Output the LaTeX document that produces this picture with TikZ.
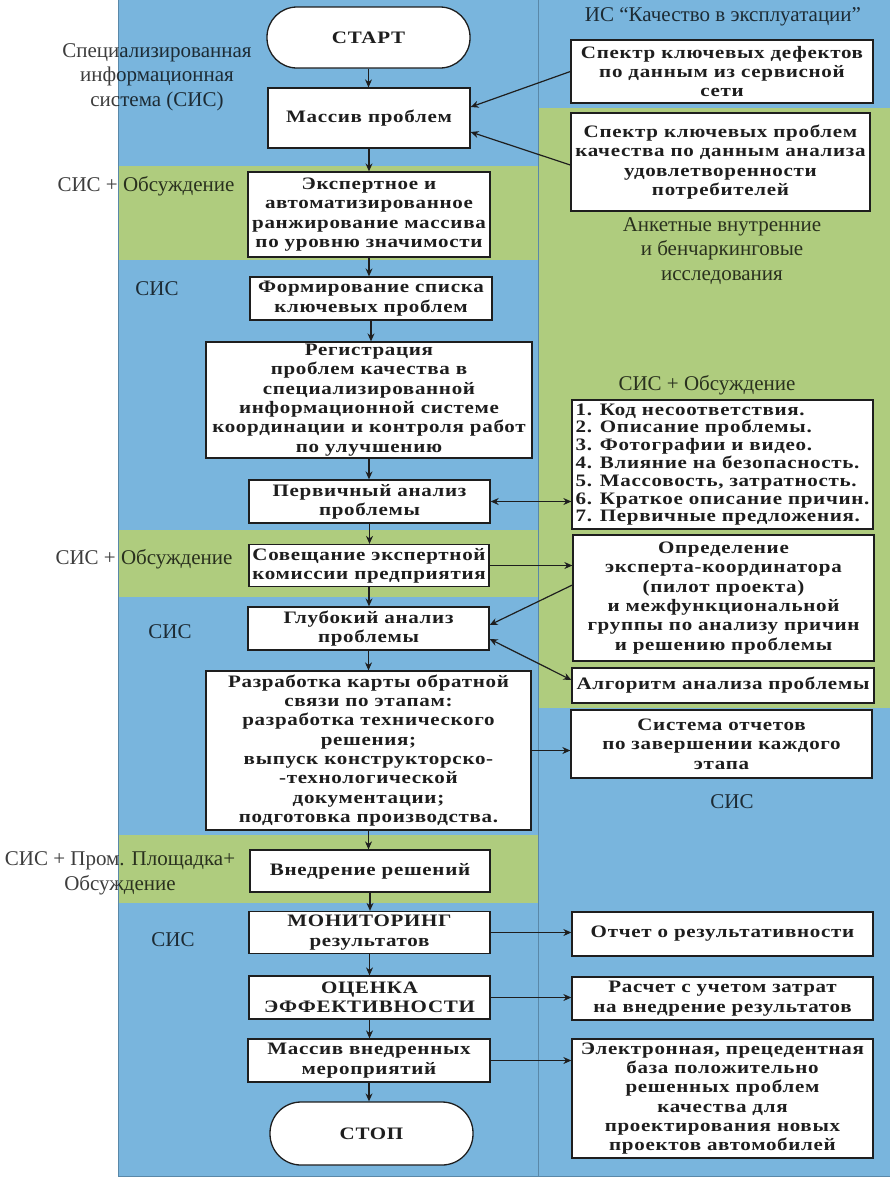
\documentclass[tikz,border=0pt]{standalone}
\usepackage{fontspec}
\setmainfont{Liberation Serif}
\newfontfamily\bxfont{Liberation Serif}[FakeStretch=1.2,LetterSpace=4]
\usetikzlibrary{arrows.meta}
\definecolor{bgblue}{HTML}{79B5DD}
\definecolor{bggreen}{HTML}{AFCC7E}
\definecolor{ink}{HTML}{1E1E1E}
\definecolor{edge}{HTML}{5A88A8}
\begin{document}
\begin{tikzpicture}[x=1pt,y=-1pt,
  box/.style={draw=ink, line width=1.3pt, fill=white, align=center, inner sep=2pt,
    font=\bxfont\bfseries\fontsize{17.5}{19.3}\selectfont, text=ink},
  lbl/.style={font=\fontsize{21}{24.5}\selectfont, text=black, text opacity=0.76, align=center, inner sep=0pt},
  arr/.style={line width=1.2pt, draw=ink, -{Stealth[length=8pt,width=7pt]}},
  darr/.style={line width=1.2pt, draw=ink, {Stealth[length=8pt,width=7pt]}-{Stealth[length=8pt,width=7pt]}}]
\useasboundingbox (0,0) rectangle (890,1179);
% backgrounds left column
\fill[bgblue]  (118,0)   rectangle (538,166);
\fill[bggreen] (118,166) rectangle (538,260);
\fill[bgblue]  (118,260) rectangle (538,530);
\fill[bggreen] (118,530) rectangle (538,597);
\fill[bgblue]  (118,597) rectangle (538,835);
\fill[bggreen] (118,835) rectangle (538,903);
\fill[bgblue]  (118,903) rectangle (538,1176);
% backgrounds right column
\fill[bgblue]  (538,0)   rectangle (890,108);
\fill[bggreen] (538,108) rectangle (890,708);
\fill[bgblue]  (538,708) rectangle (890,1176);
\draw[edge, line width=0.6pt] (538,0) -- (538,1176);
\draw[edge, line width=0.5pt] (118,0) -- (118,1176) -- (890,1176);

% left labels
\node[lbl] (l1) at (157,77) {Специализированная\\информационная\\система (СИС)};
\node[lbl] (l2) at (146,186) {СИС + Обсуждение};
\node[lbl] (l3) at (157,289) {СИС};
\node[lbl] (l4) at (144,559) {СИС + Обсуждение};
\node[lbl] (l5) at (170,632) {СИС};
\node[lbl] (l6) at (120,873.5) {СИС + Пром. Площадка+\\Обсуждение};
\node[lbl] (l7) at (173,940) {СИС};
% right labels
\node[lbl] (r0) at (723,17) {ИС “Качество в эксплуатации”};
\node[lbl] (ra) at (722,251) {Анкетные внутренние\\и бенчаркинговые\\исследования};
\node[lbl] (rb) at (707,385) {СИС + Обсуждение};
\node[lbl] (rc) at (732,802) {СИС};

% main chain
\node[box, rounded corners=30pt, minimum width=203pt, minimum height=61pt] (start) at (368.5,37.5) {СТАРТ};
\node[box, minimum width=202pt, minimum height=60pt] (mas) at (369,118) {Массив проблем};
\node[box, minimum width=242pt, minimum height=85pt] (exp) at (369,214.5) {Экспертное и\\автоматизированное\\ранжирование массива\\по уровню значимости};
\node[box, minimum width=242pt, minimum height=43pt] (form) at (371,298.5) {Формирование списка\\ключевых проблем};
\node[box, minimum width=326pt, minimum height=116pt] (reg) at (369,400) {Регистрация\\проблем качества в\\специализированной\\информационной системе\\координации и контроля работ\\по улучшению};
\node[box, minimum width=241pt, minimum height=43pt] (perv) at (369.5,501.5) {Первичный анализ\\проблемы};
\node[box, minimum width=240pt, minimum height=42pt] (sov) at (369,565.5) {Совещание экспертной\\комиссии предприятия};
\node[box, minimum width=241pt, minimum height=43pt] (glub) at (368.5,628.5) {Глубокий анализ\\проблемы};
\node[box, minimum width=325pt, minimum height=159pt] (razr) at (368.5,750.5) {Разработка карты обратной\\связи по этапам:\\разработка технического\\решения;\\выпуск конструкторско-\\-технологической\\документации;\\подготовка производства.};
\node[box, minimum width=240pt, minimum height=42pt] (vn) at (370,871) {Внедрение решений};
\node[box, minimum width=241pt, minimum height=42pt] (mon) at (369.5,932.5) {МОНИТОРИНГ\\результатов};
\node[box, minimum width=241pt, minimum height=43pt] (ots) at (369.5,997.5) {ОЦЕНКА\\ЭФФЕКТИВНОСТИ};
\node[box, minimum width=242pt, minimum height=43pt] (mvn) at (369,1060.5) {Массив внедренных\\мероприятий};
\node[box, rounded corners=31pt, minimum width=203pt, minimum height=63pt] (stop) at (371.5,1133.5) {СТОП};

% right boxes
\node[box, minimum width=302pt, minimum height=63pt] (r1) at (722,71.5) {Спектр ключевых дефектов\\по данным из сервисной\\сети};
\node[box, minimum width=299pt, minimum height=98pt] (r2) at (720.5,162) {Спектр ключевых проблем\\качества по данным анализа\\удовлетворенности\\потребителей};
\node[box, align=left, minimum width=301pt, minimum height=129pt, inner sep=2pt, font=\bxfont\bfseries\fontsize{17.5}{17.8}\selectfont] (r3) at (722.5,464.5) {1. Код несоответствия.\\2. Описание проблемы.\\3. Фотографии и видео.\\4. Влияние на безопасность.\\5. Массовость, затратность.\\6. Краткое описание причин.\\7. Первичные предложения.};
\node[box, minimum width=301pt, minimum height=126pt] (r4) at (723.5,598) {Определение\\эксперта-координатора\\(пилот проекта)\\и межфункциональной\\группы по анализу причин\\и решению проблемы};
\node[box, minimum width=302pt, minimum height=35pt] (r5) at (723,685.5) {Алгоритм анализа проблемы};
\node[box, minimum width=301pt, minimum height=68pt] (r6) at (721.5,744) {Система отчетов\\по завершении каждого\\этапа};
\node[box, minimum width=301pt, minimum height=44pt] (r7) at (722.5,934) {Отчет о результативности};
\node[box, minimum width=301pt, minimum height=43pt] (r8) at (722.5,998.5) {Расчет с учетом затрат\\на внедрение результатов};
\node[box, minimum width=301pt, minimum height=119pt] (r9) at (722.5,1098.5) {Электронная, прецедентная\\база положительно\\решенных проблем\\качества для\\проектирования новых\\проектов автомобилей};

% vertical chain arrows
\foreach \a/\b in {start/mas, mas/exp, exp/form, form/reg, reg/perv, perv/sov, sov/glub, glub/razr, razr/vn, vn/mon, mon/ots, ots/mvn, mvn/stop}
  \draw[arr] (\a.south) -- (\a.south |- \b.north);

% side connections
\draw[arr] (r1.west) -- ([yshift=11pt]mas.east);
\draw[arr] ([yshift=-3pt]r2.west) -- ([yshift=-14pt]mas.east);
\draw[darr] (perv.east) -- (perv.east -| r3.west);
\draw[arr] (sov.east) -- (sov.east -| r4.west);
\draw[arr] ([yshift=13pt]r4.west) -- ([yshift=3.5pt]glub.east);
\draw[darr] ([yshift=-10.5pt]glub.east) -- ([yshift=5.5pt]r5.west);
\draw[arr] (razr.east) -- (razr.east -| r6.west);
\draw[arr] (mon.east) -- (mon.east -| r7.west);
\draw[arr] (ots.east) -- (ots.east -| r8.west);
\draw[arr] (mvn.east) -- (mvn.east -| r9.west);
\end{tikzpicture}
\end{document}
